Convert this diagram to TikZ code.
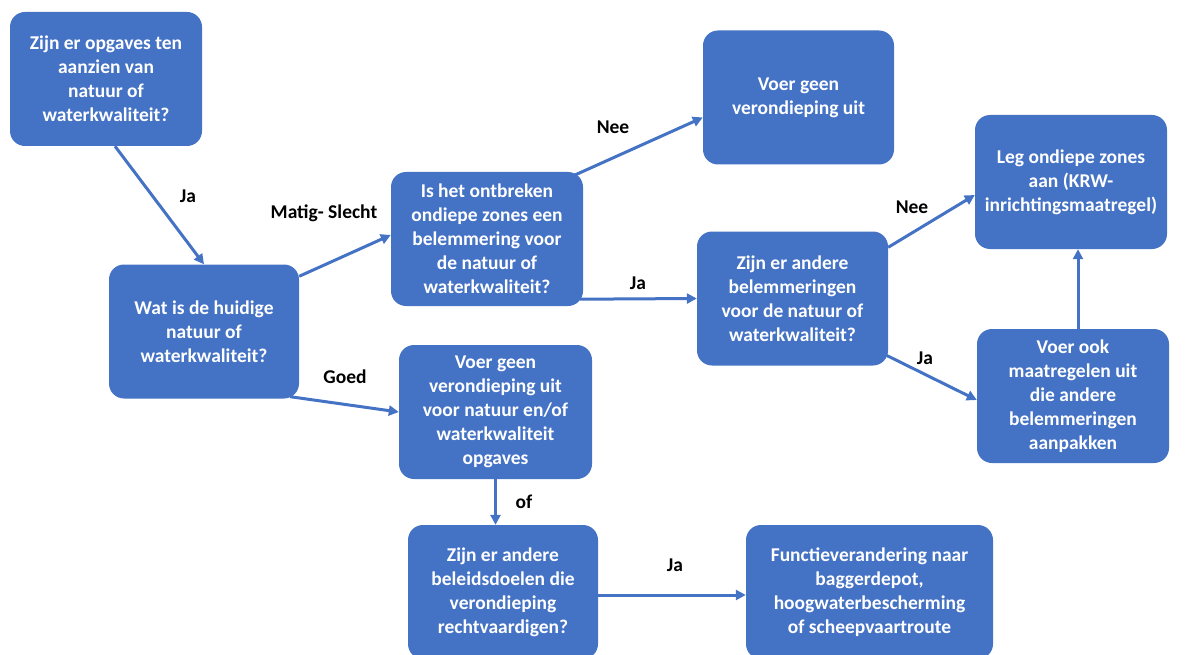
\documentclass[tikz,border=0pt]{standalone}
\usepackage{fontspec}
\setmainfont{Carlito}
\usetikzlibrary{arrows.meta}
\definecolor{vakblauw}{HTML}{4472C4}
\tikzset{
  vak/.style={fill=vakblauw, rounded corners=15pt, text=white, align=center,
    font=\fontsize{19.5}{24}\selectfont\bfseries,
    minimum width=192pt, minimum height=134pt, inner sep=0pt},
  pijl/.style={draw=vakblauw, line width=3pt, -{Triangle[length=10pt,width=10pt]}},
  lab/.style={font=\fontsize{19.5}{22}\selectfont\bfseries}
}
\begin{document}
\begin{tikzpicture}[x=1pt,y=-1pt]
\useasboundingbox (0,0) rectangle (1188,655);
\node[vak] (q1) at (106,79) {Zijn er opgaves ten\\ aanzien van\\ natuur of\\ waterkwaliteit?};
\node[vak, minimum width=190pt] (q2) at (204,331.5) {Wat  is de huidige\\ natuur of\\ waterkwaliteit?};
\node[vak] (q3) at (487,239) {Is het ontbreken\\ ondiepe zones een\\ belemmering voor\\ de natuur of\\ waterkwaliteit?};
\node[vak, minimum width=191pt] (q4) at (798.5,97.5) {Voer geen\\ verondieping uit};
\node[vak, minimum width=191pt] (q5) at (792.5,298.5) {Zijn er andere\\ belemmeringen\\ voor de natuur of\\ waterkwaliteit?};
\node[vak] (q6) at (1071,182) {Leg ondiepe zones\\ aan (KRW-\\ inrichtingsmaatregel)};
\node[vak] (q7) at (1073,396) {Voer ook\\ maatregelen uit\\ die andere\\ belemmeringen\\ aanpakken};
\node[vak, minimum width=193pt] (q8) at (495.5,412) {Voer geen\\ verondieping uit\\ voor natuur en/of\\ waterkwaliteit\\ opgaves};
\node[vak, minimum width=190pt] (q9) at (503,592) {Zijn er andere\\ beleidsdoelen die\\ verondieping\\ rechtvaardigen?};
\node[vak, minimum width=247pt] (q10) at (869.5,592) {Functieverandering naar\\ baggerdepot,\\ hoogwaterbescherming\\ of scheepvaartroute};

\draw[pijl] ([xshift=9pt]q1.south) -- (q2.north);
\draw[pijl] ([yshift=-12pt]q2.north east) -- ([yshift=4pt]q3.west);
\draw[pijl] ([xshift=-10pt,yshift=-4pt]q3.north east) -- ([yshift=-20pt]q4.west);
\draw[pijl] ([xshift=-3pt,yshift=7pt]q3.south east) -- (q5.west);
\draw[pijl] ([yshift=-16pt]q5.north east) -- ([yshift=-13pt]q6.west);
\draw[pijl] ([xshift=-3pt,yshift=11pt]q5.south east) -- ([yshift=-4pt]q7.west);
\draw[pijl] ([xshift=5pt]q7.north) -- ([xshift=5pt]q7.north |- q6.south);
\draw[pijl] ([xshift=-9pt,yshift=2pt]q2.south east) -- (q8.west);
\draw[pijl] (q8.south) -- (q8.south |- q9.north);
\draw[pijl] ([yshift=-3pt]q9.east) -- ([yshift=-3pt]q10.west);

\node[lab] (l1) at (188,196) {Ja};
\node[lab] (l2) at (324,213) {Matig- Slecht};
\node[lab] (l3) at (613,127) {Nee};
\node[lab] (l4) at (912,207) {Nee};
\node[lab] (l5) at (638,283) {Ja};
\node[lab] (l6) at (925,358) {Ja};
\node[lab] (l7) at (345,377) {Goed};
\node[lab] (l8) at (524,502) {of};
\node[lab] (l9) at (675,565) {Ja};
\end{tikzpicture}
\end{document}
